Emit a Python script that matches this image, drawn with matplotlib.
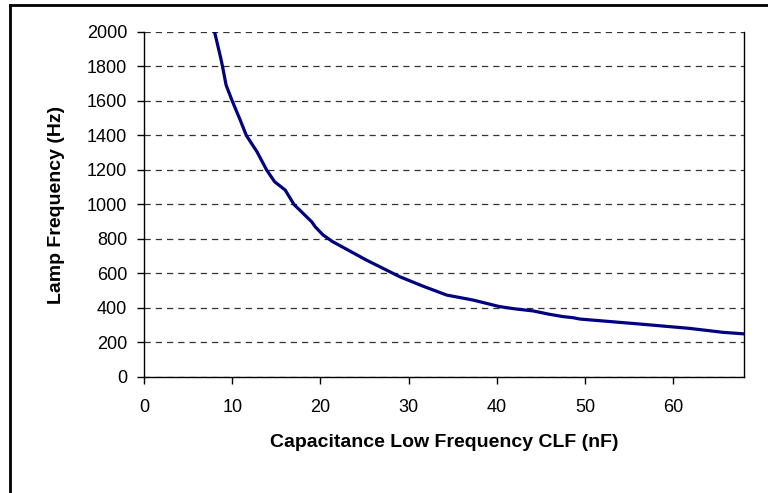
"""Lamp frequency versus low-frequency capacitance (CLF) curve."""

import matplotlib

matplotlib.use("Agg")
import matplotlib.pyplot as plt
from matplotlib.lines import Line2D

plt.rcParams["font.family"] = ["Liberation Sans", "DejaVu Sans"]

# Values
clf_nf = [8.0, 8.7, 8.9, 9.3, 10.0, 10.9, 11.6, 12.8, 13.9, 14.8,
          16.0, 17.0, 19.0, 19.4, 20.3, 21.4, 25.2, 29.0, 31.6, 34.3, 37.3,
          40.3, 42.2, 44.1, 46.0, 47.5, 48.6, 49.4, 56.2, 61.8, 65.6, 68.0]
lamp_hz = [2000, 1848, 1800, 1693, 1600, 1490, 1400, 1306, 1200, 1132,
           1084, 1000, 900, 871, 823, 784, 678, 581, 527, 475, 446,
           408, 394, 383, 363, 350, 344, 336, 307, 282, 259, 250]

x_ticks = [0, 10, 20, 30, 40, 50, 60]
y_ticks = list(range(0, 2001, 200))

X_LABEL = "Capacitance Low Frequency CLF (nF)"
Y_LABEL = "Lamp Frequency (Hz)"


def main() -> None:
    fig = plt.figure(figsize=(7.68, 4.93), dpi=100)
    ax = fig.add_axes([0.1875, 0.2353, 0.78125, 0.6998])

    ax.plot(clf_nf, lamp_hz, color="#000080", linewidth=2.3, solid_joinstyle="round")

    ax.set_xlim(0, 68)
    ax.set_ylim(0, 2000)
    ax.set_xticks(x_ticks)
    ax.set_yticks(y_ticks)
    ax.yaxis.grid(True, linestyle=(0, (5, 4)), color="#333333", linewidth=0.9)
    ax.set_axisbelow(True)

    ax.spines["top"].set_visible(False)
    for side in ("left", "bottom", "right"):
        ax.spines[side].set_linewidth(1.0)
        ax.spines[side].set_color("black")
    ax.tick_params(axis="both", direction="out", length=5, width=1, labelsize=13)
    ax.tick_params(axis="y", pad=7)
    ax.tick_params(axis="x", pad=11)

    ax.set_xlabel(X_LABEL, fontsize=14, fontweight="bold", labelpad=13)
    ax.set_ylabel(Y_LABEL, fontsize=14, fontweight="bold", labelpad=16)

    # outer chart-area border, cropped at right and bottom
    fig.add_artist(Line2D([10 / 768, 1.0], [1 - 5 / 493] * 2, color="black", linewidth=2,
                          transform=fig.transFigure))
    fig.add_artist(Line2D([10 / 768] * 2, [0.0, 1 - 5 / 493], color="black", linewidth=2,
                          transform=fig.transFigure))

    fig.savefig("out.png", dpi=100)
    plt.close(fig)


if __name__ == "__main__":
    main()
